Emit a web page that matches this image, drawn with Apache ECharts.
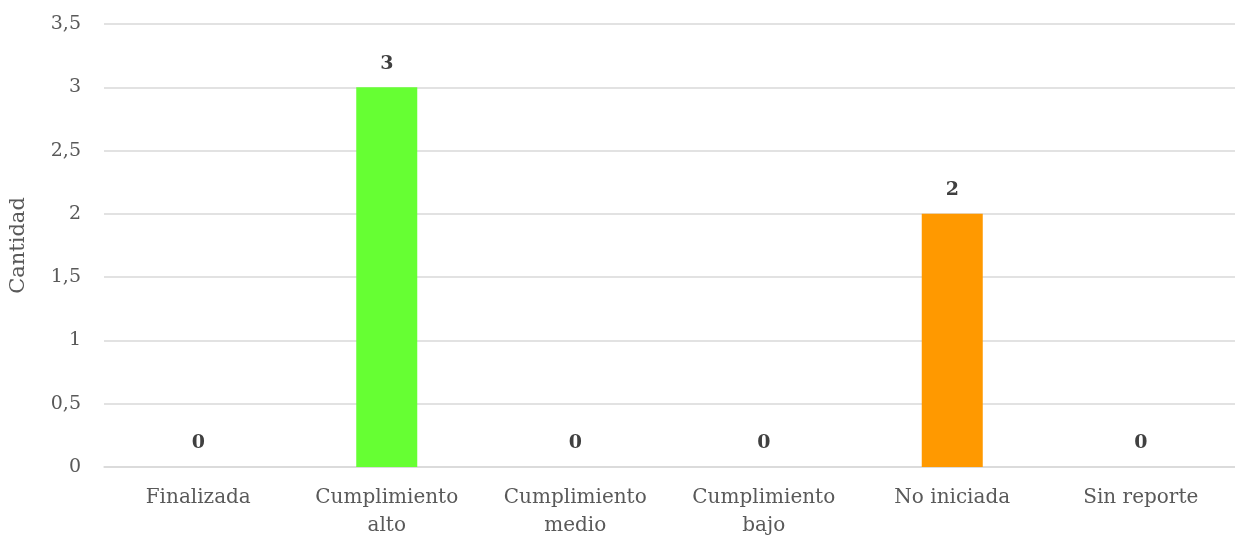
<!DOCTYPE html>
<html><head><meta charset="utf-8">
<script src="https://cdn.jsdelivr.net/npm/echarts@6/dist/echarts.min.js"></script>
<style>html,body{margin:0;padding:0;background:#fff;overflow:hidden}#c{width:1235px;height:540px}</style>
</head><body><div id="c"></div>
<script>
const categories = ["Finalizada", "Cumplimiento alto", "Cumplimiento medio", "Cumplimiento bajo", "No iniciada", "Sin reporte"];
const values = [0, 3, 0, 0, 2, 0];
const barColors = ["#66ff33", "#66ff33", "#66ff33", "#66ff33", "#ff9900", "#66ff33"];
const yTicks = [0, 0.5, 1, 1.5, 2, 2.5, 3, 3.5];
const font = "'DejaVu Serif', 'Liberation Serif', serif";
const chart = echarts.init(document.getElementById('c'));
chart.setOption({
  animation: false,
  grid: {left: 100, right: -4, top: 24, bottom: 69},
  xAxis: {
    type: 'category', data: categories,
    axisLine: {lineStyle: {color: '#d9d9d9', width: 1.5}},
    axisTick: {show: false},
    axisLabel: {color: '#595959', fontFamily: font, fontSize: 20, margin: 17, lineHeight: 28,
      formatter: v => v.replace(/^Cumplimiento /, 'Cumplimiento\n')}
  },
  yAxis: {
    type: 'value', min: yTicks[0], max: yTicks[yTicks.length - 1], interval: yTicks[1] - yTicks[0],
    name: 'Cantidad', nameLocation: 'middle', nameGap: 75,
    nameTextStyle: {color: '#595959', fontFamily: font, fontSize: 21},
    axisLine: {show: false}, axisTick: {show: false},
    splitLine: {lineStyle: {color: '#d9d9d9', width: 1.5}},
    axisLabel: {color: '#595959', fontFamily: font, fontSize: 19, margin: 23,
      formatter: v => String(v).replace('.', ',')}
  },
  series: [{
    type: 'bar', barWidth: 61,
    data: values.map((v, i) => ({value: v, itemStyle: {color: barColors[i]}})),
    label: {show: true, position: 'top', distance: 14, color: '#404040', fontFamily: font, fontSize: 19, fontWeight: 'bold'}
  }]
});
</script></body></html>
